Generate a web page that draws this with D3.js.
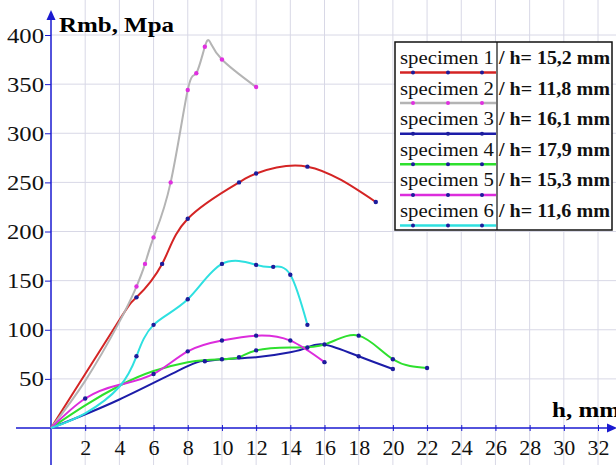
<!DOCTYPE html>
<html>
<head>
<meta charset="utf-8">
<script src="https://cdn.jsdelivr.net/npm/d3@7"></script>
<style>
  body { margin: 0; background: #fff; }
  svg { display: block; }
</style>
</head>
<body>
<div id="chart"></div>
<script>
// chart data: [h, Rmb, marker?]
var spec1 = [[0,0,0],[4,110,0],[5,133,1],[6.5,167,1],[8,213,1],[11,250,1],[12,259,1],[15,266,1],[19,230,1]];
var spec2 = [[0,0,0],[2,48,0],[4,108,0],[5,144,1],[5.5,167,1],[6,194,1],[7,250,1],[8,344,1],[8.5,361,1],[9,388,1],[9.3,393,0],[10,375,1],[12,347,1]];
var spec3 = [[0,0,0],[4,29,0],[8,63,0],[9,68,1],[10,70,1],[12,72,0],[14,77,0],[15,82,1],[16,85,1],[18,73,1],[20,60,1]];
var spec4 = [[0,0,0],[2,23,0],[4,43,0],[6,58,0],[8,67,0],[9,69,0],[10,70,0],[11,72,1],[12,79,1],[14,82,0],[16,85,0],[18,94,1],[20,70,1],[22,61,1]];
var spec5 = [[0,0,0],[2,30,1],[4,44,0],[6,55,1],[8,78,1],[10,89,1],[12,94,1],[14,89,1],[16,67,1]];
var spec6 = [[0,0,0],[2,15,0],[4,42,0],[5,73,1],[6,105,1],[8,131,1],[10,167,1],[12,166,1],[13,164,1],[14,156,1],[15,105,1]];

var names = ["specimen 1", "specimen 2", "specimen 3", "specimen 4", "specimen 5", "specimen 6"];
var heights = ["/ h= 15,2 mm", "/ h= 11,8 mm", "/ h= 16,1 mm", "/ h= 17,9 mm", "/ h= 15,3 mm", "/ h= 11,6 mm"];
var xTicks = [2,4,6,8,10,12,14,16,18,20,22,24,26,28,30,32];
var yTicks = [50,100,150,200,250,300,350,400];

var series = [spec1, spec2, spec3, spec4, spec5, spec6];
var lineColors = ["#d42424", "#b4b4b4", "#1c1ca8", "#2ee02e", "#dc2cdc", "#2ee0e0"];
var dotColors = ["#1c1c9c", "#e030e0", "#1c1c9c", "#1c1c9c", "#1c1c9c", "#1c1c9c"];

var W = 616, H = 465;
var svg = d3.select("#chart").append("svg")
  .attr("width", W).attr("height", H);

var x = d3.scaleLinear().domain([0, 32]).range([51, 598]);
var y = d3.scaleLinear().domain([0, 400]).range([428, 35]);

var axisColor = "#1a1ad0";
var gridColor = "#d8d8e6";
var serif = "'Liberation Serif', 'Times New Roman', serif";

// grid
var grid = svg.append("g");
grid.selectAll(".vg")
  .data(xTicks.concat([34]))
  .enter().append("line")
    .attr("x1", function(d) { return x(d); })
    .attr("x2", function(d) { return x(d); })
    .attr("y1", 0).attr("y2", H)
    .attr("stroke", gridColor).attr("stroke-width", 1);
grid.selectAll(".hg")
  .data(yTicks)
  .enter().append("line")
    .attr("x1", x(0)).attr("x2", W)
    .attr("y1", function(d) { return y(d); })
    .attr("y2", function(d) { return y(d); })
    .attr("stroke", gridColor).attr("stroke-width", 1);

// axes
var xAxis = svg.append("g")
  .attr("transform", "translate(0," + y(0) + ")")
  .call(d3.axisBottom(x).tickValues(xTicks).tickSize(3).tickPadding(8));
xAxis.select(".domain").remove();
xAxis.selectAll(".tick line").attr("y1", -3).attr("stroke", axisColor);
xAxis.selectAll(".tick text")
  .attr("fill", "#111").style("font-family", serif).style("font-size", "22px");

var yAxis = svg.append("g")
  .attr("transform", "translate(" + x(0) + ",0)")
  .call(d3.axisLeft(y).tickValues(yTicks).tickSize(6).tickPadding(1));
yAxis.select(".domain").remove();
yAxis.selectAll(".tick line").attr("stroke", axisColor);
yAxis.selectAll(".tick text")
  .attr("fill", "#111").style("font-family", serif).style("font-size", "22px")
  .attr("textLength", 37).attr("lengthAdjust", "spacingAndGlyphs")
  .each(function(d) { if (d < 100) d3.select(this).attr("textLength", 25); });
svg.selectAll(".tick text").attr("font-family", null);

svg.append("line")
  .attr("x1", 16).attr("x2", 610)
  .attr("y1", y(0)).attr("y2", y(0))
  .attr("stroke", axisColor).attr("stroke-width", 1.5);
svg.append("line")
  .attr("x1", x(0)).attr("x2", x(0))
  .attr("y1", H).attr("y2", 16)
  .attr("stroke", axisColor).attr("stroke-width", 1.5);
svg.append("path")
  .attr("d", "M" + x(0) + ",10 L" + (x(0) - 4.5) + ",20 L" + (x(0) + 4.5) + ",20 Z")
  .attr("fill", axisColor);
svg.append("path")
  .attr("d", "M617," + y(0) + " L607," + (y(0) - 4.5) + " L607," + (y(0) + 4.5) + " Z")
  .attr("fill", axisColor);

// axis titles
svg.append("text")
  .attr("x", 59).attr("y", 32)
  .attr("textLength", 115).attr("lengthAdjust", "spacingAndGlyphs")
  .style("font-family", serif).style("font-size", "22px").style("font-weight", "bold")
  .text("Rmb, Mpa");
svg.append("text")
  .attr("x", 552).attr("y", 417)
  .attr("textLength", 68).attr("lengthAdjust", "spacingAndGlyphs")
  .style("font-family", serif).style("font-size", "22px").style("font-weight", "bold")
  .text("h, mm");

// curves (cubic spline through the points)
var line = d3.line()
  .x(function(d) { return x(d[0]); })
  .y(function(d) { return y(d[1]); })
  .curve(d3.curveNatural);

series.forEach(function(s, i) {
  svg.append("path")
    .datum(s)
    .attr("d", line)
    .attr("fill", "none")
    .attr("stroke", lineColors[i])
    .attr("stroke-width", 2);
});
series.forEach(function(s, i) {
  svg.selectAll(null)
    .data(s.filter(function(d) { return d[2]; }))
    .enter().append("circle")
      .attr("cx", function(d) { return x(d[0]); })
      .attr("cy", function(d) { return y(d[1]); })
      .attr("r", 2.2)
      .attr("fill", dotColors[i]);
});

// legend
var lg = svg.append("g");
lg.append("rect")
  .attr("x", 395).attr("y", 42).attr("width", 217).attr("height", 188)
  .attr("fill", "#fff").attr("stroke", "#111").attr("stroke-width", 1.5);
lg.append("line")
  .attr("x1", 497).attr("x2", 497).attr("y1", 42).attr("y2", 230)
  .attr("stroke", "#111").attr("stroke-width", 1.2);

names.forEach(function(n, i) {
  var by = 64 + i * 30.6;
  lg.append("text")
    .attr("x", 400).attr("y", by)
    .attr("textLength", 94).attr("lengthAdjust", "spacingAndGlyphs")
    .style("font-family", serif).style("font-size", "18px").attr("fill", "#111")
    .text(n);
  lg.append("text")
    .attr("x", 499).attr("y", by)
    .attr("textLength", 111).attr("lengthAdjust", "spacingAndGlyphs")
    .style("font-family", serif).style("font-size", "18px").style("font-weight", "bold")
    .attr("fill", "#111")
    .text(heights[i]);
  lg.append("line")
    .attr("x1", 400).attr("x2", 496)
    .attr("y1", by + 8.5).attr("y2", by + 8.5)
    .attr("stroke", lineColors[i]).attr("stroke-width", 2.5);
  lg.selectAll(null)
    .data([413, 448, 482])
    .enter().append("circle")
      .attr("cx", function(d) { return d; })
      .attr("cy", by + 8.5)
      .attr("r", 2)
      .attr("fill", dotColors[i]);
});
</script>
</body>
</html>
